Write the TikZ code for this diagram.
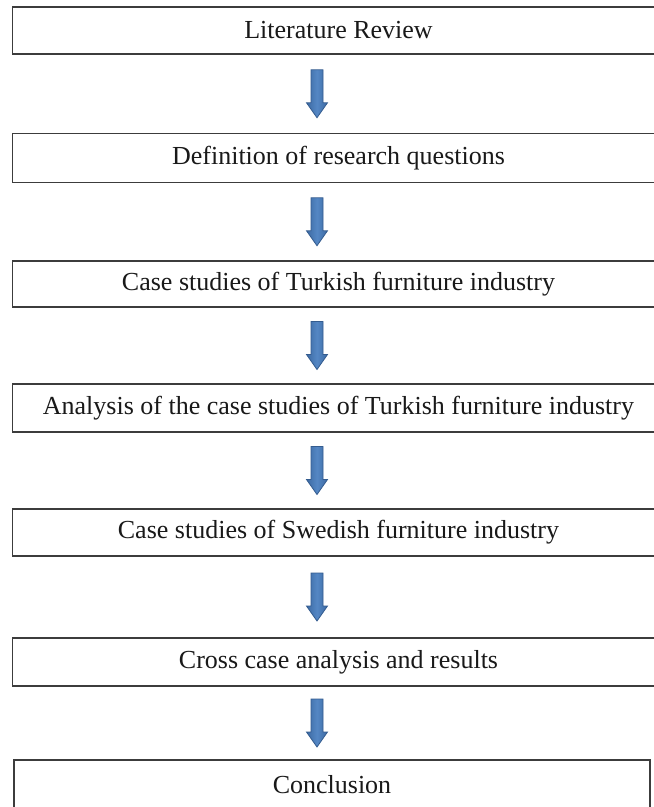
\documentclass[tikz,border=0pt]{standalone}
\usepackage{fontspec}
\setmainfont{Liberation Serif}
\usetikzlibrary{calc}
\definecolor{boxline}{HTML}{3C3C3C}
\definecolor{arrowfill}{HTML}{5487C4}
\definecolor{arrowdark}{HTML}{3D6AA3}
\definecolor{arrowedge}{HTML}{345C8F}
\begin{document}
\begin{tikzpicture}[x=1pt,y=-1pt,
  stage/.style={draw=boxline, line width=1.6pt, fill=white, inner sep=0pt,
    minimum width=652pt, minimum height=47pt,
    font=\fontsize{26}{30}\selectfont, text=black!90},
  blockarrow/.style={draw=arrowedge, line width=0.8pt, line join=miter,
    left color=arrowdark, right color=arrowdark, middle color=arrowfill,
    to path={($(\tikztostart)+(-6,0)$) -- ($(\tikztotarget)+(-6,-15)$)
      -- ($(\tikztotarget)+(-10.5,-15)$) -- (\tikztotarget)
      -- ($(\tikztotarget)+(10.5,-15)$) -- ($(\tikztotarget)+(6,-15)$)
      -- ($(\tikztostart)+(6,0)$) -- cycle}}]
\useasboundingbox (0,0) rectangle (654,807);
\clip (0,0) rectangle (654,807);
\fill[white] (0,0) rectangle (654,807);

% process stages, top to bottom
\node[stage] (lit) at (338.5,30.5) {Literature Review};
\node[stage, minimum height=49pt] (def) at (338.5,158) {Definition of research questions};
\node[stage, minimum height=46pt] (turk) at (338.5,284) {Case studies of Turkish furniture industry};
\node[stage, minimum height=48pt] (anal) at (338.5,408) {Analysis of the case studies of Turkish furniture industry};
\node[stage] (swed) at (338.5,532.5) {Case studies of Swedish furniture industry};
\node[stage, minimum height=48pt] (cross) at (338.5,662) {Cross case analysis and results};
\node[stage, minimum width=636pt, minimum height=49pt] (concl) at (332,784.5) {Conclusion};

% block arrows centred in each gap
\coordinate (axis) at (317,0);
\foreach \a/\b [count=\i] in {lit/def, def/turk, turk/anal, anal/swed, swed/cross, cross/concl} {
  \coordinate (u\i) at (\a.south -| axis);
  \coordinate (v\i) at (\b.north -| axis);
  \coordinate (m\i) at ($(u\i)!0.5!(v\i)$);
  \coordinate (s\i) at ($(m\i)+(0,-24)$);
  \coordinate (e\i) at ($(m\i)+(0,24)$);
  \draw[blockarrow] (s\i) to (e\i);
}
\end{tikzpicture}
\end{document}
